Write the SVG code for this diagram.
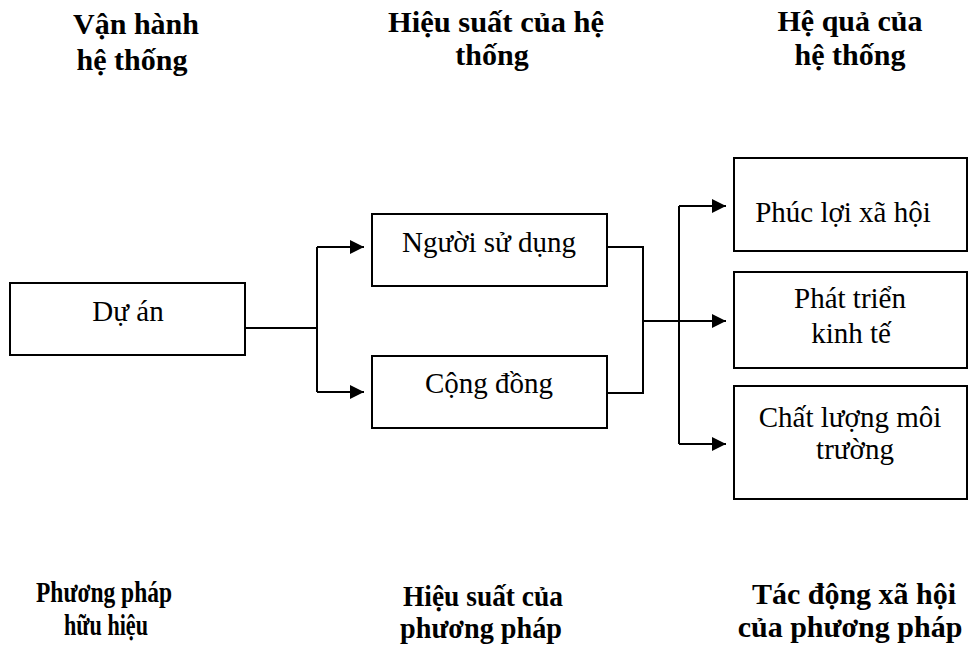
<svg xmlns="http://www.w3.org/2000/svg" width="969" height="645" viewBox="0 0 969 645">
<style>
.box{fill:#fff;stroke:#000;stroke-width:2}
.t{font-family:"Liberation Serif","Times New Roman",serif;font-size:29px;fill:#000;text-anchor:middle}
.h{font-family:"Liberation Serif","Times New Roman",serif;font-size:30px;font-weight:bold;fill:#000;text-anchor:middle}
.c{fill:none;stroke:#000;stroke-width:2}
</style>
<defs>
<marker id="arr" markerWidth="8" markerHeight="8" refX="7" refY="4" orient="auto" markerUnits="strokeWidth">
<path d="M0,0.5 L7,4 L0,7.5 Z" fill="#000"/>
</marker>
</defs>
<rect width="969" height="645" fill="#fff"/>
<g id="headers">
<text class="h" x="136" y="34">Vận hành</text>
<text class="h" x="132" y="70">hệ thống</text>
<text class="h" x="496" y="32" textLength="216" lengthAdjust="spacingAndGlyphs">Hiệu suất của hệ</text>
<text class="h" x="492" y="65">thống</text>
<text class="h" x="850" y="31">Hệ quả của</text>
<text class="h" x="850" y="65">hệ thống</text>
<text class="h" x="104" y="602" textLength="136" lengthAdjust="spacingAndGlyphs">Phương pháp</text>
<text class="h" x="106" y="635" textLength="84" lengthAdjust="spacingAndGlyphs">hữu hiệu</text>
<text class="h" x="483" y="606" textLength="160" lengthAdjust="spacingAndGlyphs">Hiệu suất của</text>
<text class="h" x="481" y="638" textLength="162" lengthAdjust="spacingAndGlyphs">phương pháp</text>
<text class="h" x="854" y="604">Tác động xã hội</text>
<text class="h" x="850" y="637">của phương pháp</text>
</g>
<g id="du-an">
<rect class="box" x="10" y="283" width="235" height="72"/>
<text class="t" x="128" y="321">Dự án</text>
</g>
<g id="nguoi-su-dung">
<rect class="box" x="372" y="214" width="235" height="72"/>
<text class="t" x="489" y="252">Người sử dụng</text>
</g>
<g id="cong-dong">
<rect class="box" x="372" y="356" width="235" height="72"/>
<text class="t" x="489" y="393">Cộng đồng</text>
</g>
<g id="phuc-loi">
<rect class="box" x="734" y="158" width="233" height="93"/>
<text class="t" x="843" y="222">Phúc lợi xã hội</text>
</g>
<g id="phat-trien">
<rect class="box" x="734" y="272" width="233" height="96"/>
<text class="t" x="850" y="308">Phát triển</text>
<text class="t" x="851" y="343">kinh tế</text>
</g>
<g id="chat-luong">
<rect class="box" x="734" y="386" width="233" height="113"/>
<text class="t" x="850" y="427">Chất lượng môi</text>
<text class="t" x="855" y="459">trường</text>
</g>
<g id="connectors">
<path class="c" d="M245,328 H317"/>
<path class="c" d="M317,247 V392"/>
<path class="c" d="M317,247 H364" marker-end="url(#arr)"/>
<path class="c" d="M317,392 H364" marker-end="url(#arr)"/>
<path class="c" d="M607,247 H643 V393 H607"/>
<path class="c" d="M643,321 H726" marker-end="url(#arr)"/>
<path class="c" d="M679,206 V444"/>
<path class="c" d="M679,206 H726" marker-end="url(#arr)"/>
<path class="c" d="M679,444 H726" marker-end="url(#arr)"/>
</g>
</svg>
